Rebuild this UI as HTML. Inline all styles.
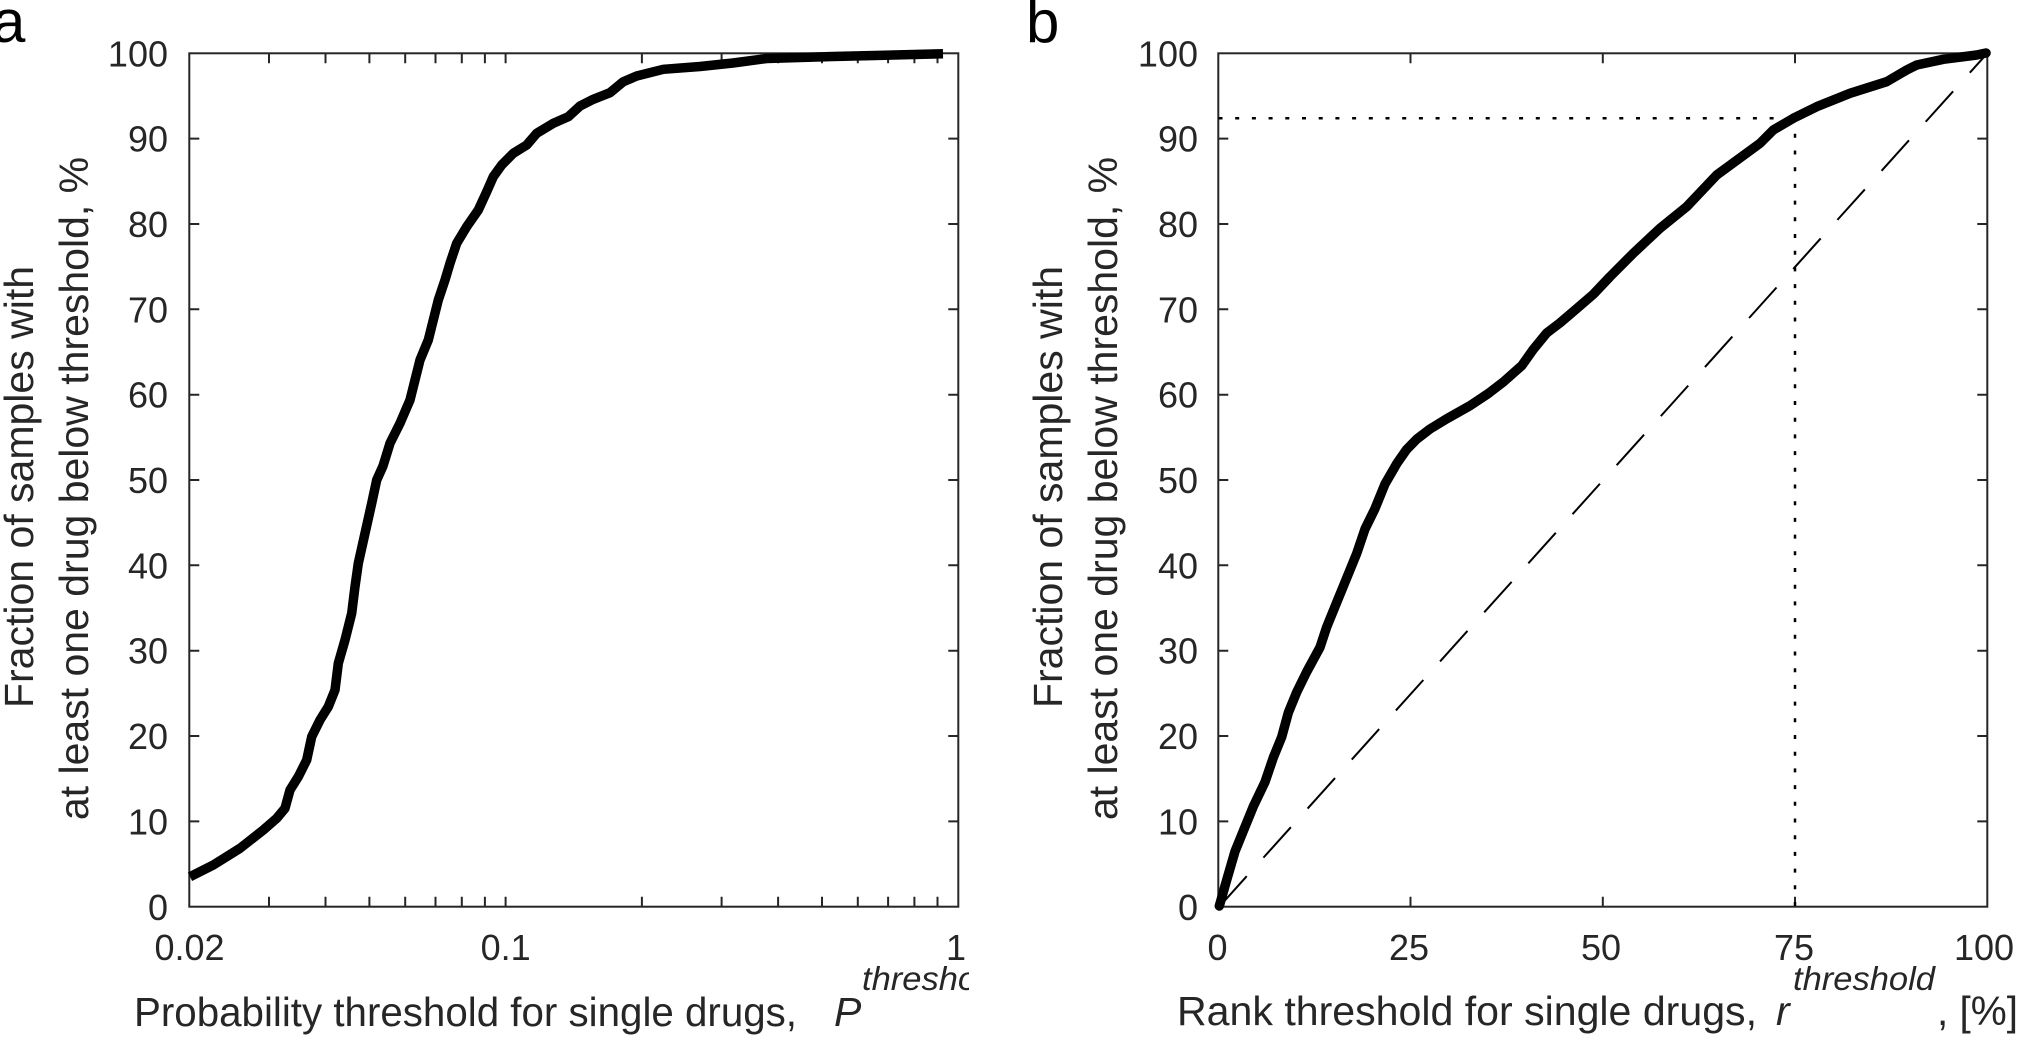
<!DOCTYPE html>
<html>
<head>
<meta charset="utf-8">
<style>
  html,body{margin:0;padding:0;background:#fff;}
  svg{display:block;}
  text{font-family:"Liberation Sans", Arial, sans-serif;}
</style>
</head>
<body>
<svg width="2021" height="1038" viewBox="0 0 2021 1038" xmlns="http://www.w3.org/2000/svg">
  <rect width="2021" height="1038" fill="#fff"/>
  <defs>
    <clipPath id="clipA"><rect x="0" y="0" width="969" height="1038"/></clipPath>
  </defs>

  <!-- Panel letters -->
  <text x="-8" y="42" font-size="60" fill="#000">a</text>
  <text x="1026" y="42" font-size="60" fill="#000">b</text>

  <!-- ================= PANEL A ================= -->
  <g stroke="#262626" stroke-width="2" fill="none">
    <path d="M189.3 821.4h10M189.3 736h10M189.3 650.7h10M189.3 565.3h10M189.3 480h10M189.3 394.7h10M189.3 309.3h10M189.3 224h10M189.3 138.6h10
             M958.3 821.4h-10M958.3 736h-10M958.3 650.7h-10M958.3 565.3h-10M958.3 480h-10M958.3 394.7h-10M958.3 309.3h-10M958.3 224h-10M958.3 138.6h-10"/>
    <path d="M269 906.7v-10M325.5 906.7v-10M369.4 906.7v-10M405.2 906.7v-10M435.5 906.7v-10M461.8 906.7v-10M484.9 906.7v-10M505.6 906.7v-10
             M641.9 906.7v-10M721.6 906.7v-10M778.1 906.7v-10M822 906.7v-10M857.8 906.7v-10M888.1 906.7v-10M914.4 906.7v-10M937.5 906.7v-10"/>
    <path d="M269 53.3v10M325.5 53.3v10M369.4 53.3v10M405.2 53.3v10M435.5 53.3v10M461.8 53.3v10M484.9 53.3v10M505.6 53.3v10
             M641.9 53.3v10M721.6 53.3v10M778.1 53.3v10M822 53.3v10M857.8 53.3v10M888.1 53.3v10M914.4 53.3v10M937.5 53.3v10"/>
    <rect x="189.3" y="53.3" width="769" height="853.4"/>
  </g>

  <!-- curve a -->
  <polyline fill="none" stroke="#000" stroke-width="9.5" stroke-linejoin="round" stroke-linecap="butt"
    points="190,876.7 213.3,865 240,848.3 263.3,830 276.7,818.3 285,808.3 290,790 298.3,776.7 306.7,760 311.7,736.7 320,720 328.3,706.7 335,690 338.3,663.3 345,640 351.7,613.3 355,586.7 358.3,563.3 365,533.3 371.7,503.3 376.7,480 383,466 390,443.3 400,423.3 410,400 415,380 420,360 428.3,340 433.3,320 438.3,300 445,280 450,263.3 456.7,243.3 466.7,226.7 478.3,210 486.7,191.7 493.3,176.7 501.7,165 513.3,153.3 526.7,145 536.7,133.3 553.3,123.3 568.3,116.7 580,106 593.3,99.3 610,92.7 623.3,81.7 636.7,76 663.3,69.3 700,66.5 733,63 766.7,58.5 833,56.5 943,53.8"/>

  <!-- y tick labels a -->
  <g font-size="36" fill="#262626" text-anchor="end">
    <text x="168" y="920">0</text>
    <text x="168" y="834.5">10</text>
    <text x="168" y="749">20</text>
    <text x="168" y="663.7">30</text>
    <text x="168" y="578.3">40</text>
    <text x="168" y="493">50</text>
    <text x="168" y="407.7">60</text>
    <text x="168" y="322.3">70</text>
    <text x="168" y="237">80</text>
    <text x="168" y="151.6">90</text>
    <text x="168" y="66.3">100</text>
  </g>
  <g font-size="36" fill="#262626" text-anchor="middle">
    <text x="189.5" y="960">0.02</text>
    <text x="505.6" y="960">0.1</text>
    <text x="956" y="960">1</text>
  </g>

  <!-- y label a -->
  <g font-size="41" fill="#262626" text-anchor="middle">
    <text transform="translate(33,487) rotate(-90)">Fraction of samples with</text>
    <text transform="translate(88,488.5) rotate(-90)">at least one drug below threshold, %</text>
  </g>

  <!-- x label a -->
  <g fill="#262626" clip-path="url(#clipA)">
    <text x="134" y="1026" font-size="41" textLength="663" lengthAdjust="spacingAndGlyphs">Probability threshold for single drugs,</text>
    <text x="834" y="1026" font-size="41" font-style="italic">P</text>
    <text x="862" y="990" font-size="33" font-style="italic" textLength="142" lengthAdjust="spacingAndGlyphs">threshold</text>
  </g>

  <!-- ================= PANEL B ================= -->
  <g stroke="#262626" stroke-width="2" fill="none">
    <path d="M1218.3 821.4h10M1218.3 736h10M1218.3 650.7h10M1218.3 565.3h10M1218.3 480h10M1218.3 394.7h10M1218.3 309.3h10M1218.3 224h10M1218.3 138.6h10
             M1987.3 821.4h-10M1987.3 736h-10M1987.3 650.7h-10M1987.3 565.3h-10M1987.3 480h-10M1987.3 394.7h-10M1987.3 309.3h-10M1987.3 224h-10M1987.3 138.6h-10"/>
    <path d="M1410.5 906.7v-10M1602.8 906.7v-10M1795 906.7v-10
             M1410.5 53.3v10M1602.8 53.3v10M1795 53.3v10"/>
    <rect x="1218.3" y="53.3" width="769" height="853.4"/>
  </g>

  <!-- dotted guide lines -->
  <g stroke="#000" stroke-width="2.5" fill="none">
    <line x1="1218.5" y1="118.3" x2="1787" y2="118.3" stroke-dasharray="4 12.7"/>
    <line x1="1795" y1="906" x2="1795" y2="120" stroke-dasharray="4 12.7"/>
  </g>

  <!-- dashed diagonal -->
  <line x1="1219.3" y1="906.7" x2="1987.3" y2="53.3" stroke="#000" stroke-width="2" stroke-dasharray="41 25"/>

  <!-- curve b -->
  <polyline fill="none" stroke="#000" stroke-width="9.5" stroke-linejoin="round" stroke-linecap="round"
    points="1219.3,906 1226.7,880 1235,851.4 1243.3,831 1253.3,806.5 1265,782 1273.3,757.6 1281.7,737 1288.3,712.7 1296.7,692.2 1306.7,671.8 1320,647.3 1326.7,627 1336.7,602.4 1346.7,578 1356.7,553.5 1365,529 1375,508.6 1385,484 1396.7,463.7 1406.7,449.4 1416.7,439.2 1430,429 1446.7,418.8 1470,405.7 1488.3,393.5 1503.3,382 1521.7,365.7 1533.3,349.4 1546.7,333 1560,322.9 1576.7,308.6 1593.3,294.3 1610,276.7 1633.3,253.3 1660,228.3 1686.7,206.7 1716.7,175 1760,143.3 1773.3,130 1793.3,118.3 1816.7,106.7 1850,93.3 1886.7,81.7 1906.7,70 1916.7,65 1943.3,59.3 1976.7,55 1986,53"/>

  <!-- y tick labels b -->
  <g font-size="36" fill="#262626" text-anchor="end">
    <text x="1198" y="920">0</text>
    <text x="1198" y="834.5">10</text>
    <text x="1198" y="749">20</text>
    <text x="1198" y="663.7">30</text>
    <text x="1198" y="578.3">40</text>
    <text x="1198" y="493">50</text>
    <text x="1198" y="407.7">60</text>
    <text x="1198" y="322.3">70</text>
    <text x="1198" y="237">80</text>
    <text x="1198" y="151.6">90</text>
    <text x="1198" y="66.3">100</text>
  </g>
  <g font-size="36" fill="#262626" text-anchor="middle">
    <text x="1217.5" y="960">0</text>
    <text x="1409" y="960">25</text>
    <text x="1601" y="960">50</text>
    <text x="1794" y="960">75</text>
    <text x="1984" y="960">100</text>
  </g>

  <!-- y label b -->
  <g font-size="41" fill="#262626" text-anchor="middle">
    <text transform="translate(1062,487) rotate(-90)">Fraction of samples with</text>
    <text transform="translate(1117,488.5) rotate(-90)">at least one drug below threshold, %</text>
  </g>

  <!-- x label b -->
  <g fill="#262626">
    <text x="1177" y="1025" font-size="41" textLength="580" lengthAdjust="spacingAndGlyphs">Rank threshold for single drugs,</text>
    <text x="1776" y="1025" font-size="41" font-style="italic">r</text>
    <text x="1793" y="990" font-size="33" font-style="italic" textLength="142" lengthAdjust="spacingAndGlyphs">threshold</text>
    <text x="1937" y="1025" font-size="41" textLength="81" lengthAdjust="spacingAndGlyphs">, [%]</text>
  </g>
</svg>
</body>
</html>
